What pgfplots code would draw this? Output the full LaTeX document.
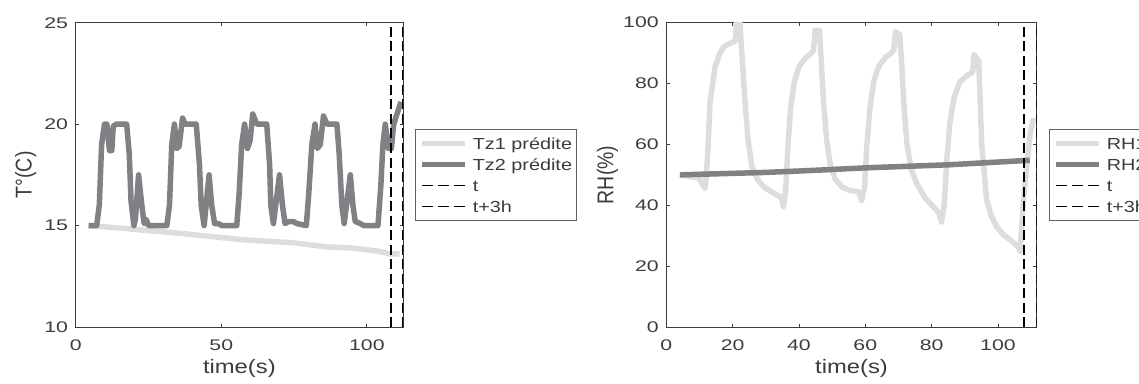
\documentclass[border=0pt]{standalone}
\usepackage{pgfplots}
\pgfplotsset{compat=1.18}
\usepackage{fontspec}
\setmainfont{Liberation Sans}
\definecolor{lightg}{RGB}{220,221,223}
\definecolor{darkg}{RGB}{128,128,133}
\definecolor{axc}{RGB}{60,60,60}
\pgfplotsset{
  common/.style={
    scale only axis, height=304.3pt,
    axis line style={axc, line width=0.8pt},
    every tick/.style={axc, line width=0.8pt},
    major tick length=3.5pt,
    tick align=inside, tick pos=both,
    /pgf/number format/assume math mode=true,
    tick label style={font=\fontsize{15.4}{18}\selectfont, text=axc, xscale=1.38},
    xticklabel style={anchor=north, yshift=-9.7pt},
    yticklabel style={anchor=east, xshift=-2pt},
    label style={font=\fontsize{19.5}{22}\selectfont, text=axc},
    xlabel style={at={(axis description cs:0.5,0)}, anchor=base, yshift=-46.3pt, xscale=1.22},
    legend cell align=left,
    legend style={anchor=north west, draw=axc!80, line width=0.6pt, fill=white,
      inner xsep=4pt, inner ysep=3pt, font=\fontsize{16}{19}\selectfont, text=axc,
      nodes={xscale=1.24, inner sep=0pt, text height=16.7pt, text depth=4.7pt},
      row sep=-0.3pt, column sep=5pt},
    legend image code/.code={\draw[#1] (0pt,0pt) -- (43pt,0pt);},
  },
  dashimg/.style={legend image code/.code={\draw[##1, line width=1.2pt, dash pattern=on 11pt off 5pt] (0pt,0pt) -- (43pt,0pt);}},
  lgt/.style={lightg, line width=5.5pt, line join=round, no markers},
  drk/.style={darkg, line width=5.5pt, line join=round, no markers},
  vdash/.style={black, line width=2pt, dash pattern=on 10pt off 4.5pt, no markers, dashimg},
}
\begin{document}
\begin{tikzpicture}
\useasboundingbox (0pt,0pt) rectangle (1139pt,383pt);
\clip (0pt,0pt) rectangle (1139pt,383pt);
\begin{axis}[common, at={(75.7pt,56pt)}, anchor=south west, width=327.3pt,
  xmin=0, xmax=112.4, ymin=10, ymax=25,
  xtick={0,50,100}, ytick={10,15,20,25},
  xlabel={time(s)}, ylabel={T°(C)},
  ylabel style={at={(axis description cs:-0.1344,0.5)}, anchor=base, yscale=1.17},
  legend style={at={(1.0367,0.6497)}}]
\addplot[lgt] coordinates {(4.4,15) (17.5,14.85) (37,14.6) (57.6,14.3) (74.8,14.15) (86.3,13.95) (94.3,13.9) (103.4,13.75) (108,13.6) (111.2,13.6)};
\addlegendentry{Tz1 prédite}
\addplot[drk] coordinates {
(4.4,15) (7.2,15) (8.1,16) (8.9,19) (9.9,20) (10.7,20) (11.6,18.7) (12.4,18.7) (12.9,19.9) (13.9,20) (17.5,20)
(18.4,18.5) (19.0,16.2) (20.0,15) (20.5,15.3) (21.6,17.5) (22.7,16) (23.5,15.1) (24.2,15.3) (25.0,15) (31.3,15)
(32.2,16) (33.0,19) (33.9,20) (34.7,18.8) (35.5,18.9) (36.7,20.3) (37.6,20) (41.4,20)
(42.5,18) (43.1,16) (44.1,15) (45.8,17.5) (46.7,16) (47.7,15.1) (49.0,15.1) (50.2,15) (55.3,15)
(56.1,16.5) (57.0,19) (58.0,20) (59.0,18.8) (59.9,19.2) (60.8,20.5) (62.2,20) (65.6,20)
(66.6,18) (67.0,16) (67.9,15.1) (70.0,17.5) (71.0,16) (71.9,15.1) (73.1,15.2) (74.8,15.2) (75.9,15.1) (79.2,15)
(80.0,16.5) (81.1,19) (82.2,20) (83.0,18.8) (84.0,19) (85.1,20.4) (86.3,20) (89.7,20)
(90.5,18.5) (91.4,16) (92.2,15.1) (94.3,17.5) (95.2,16) (96.0,15.2) (97.7,15.1) (98.9,15) (103.8,15)
(104.8,17) (105.5,19) (106.3,20) (107.4,18.8) (108.4,18.8) (109.2,20) (111.7,21.1)};
\addlegendentry{Tz2 prédite}
\addplot[vdash] coordinates {(108.2,10) (108.2,25)};
\addlegendentry{t}
\addplot[vdash] coordinates {(112.4,10) (112.4,25)};
\addlegendentry{t+3h}
\end{axis}
\begin{axis}[common, at={(666.3pt,56pt)}, anchor=south west, width=370.4pt,
  xmin=0, xmax=111.7, ymin=0, ymax=100,
  xtick={0,20,...,100}, ytick={0,20,...,100},
  xlabel={time(s)}, ylabel={RH(\%)},
  ylabel style={at={(axis description cs:-0.1431,0.5)}, anchor=base, yscale=1.17},
  legend style={at={(1.0332,0.6497)}}]
\addplot[lgt] coordinates {
(4.1,50) (9.8,49) (11.7,45.5) (12.4,55) (13.2,74) (14.7,85.5) (16.0,89.5) (17.2,92) (19.7,93.5) (20.8,94)
(21.2,100) (22.2,100) (22.9,88) (23.7,74.6) (24.6,62) (25.8,52.7) (27.5,48.5) (29.3,46.2) (31.5,44.5) (34.3,42.9)
(35.0,41.5) (35.3,39.5) (36.0,45) (36.7,60) (37.5,72) (38.6,80.5) (40.0,85.5) (42.0,88.5) (43.8,90) (44.4,91)
(44.9,97.5) (46.2,97.5) (46.7,88) (47.4,74) (48.4,61) (49.5,53) (51,48.5) (53,46) (55.5,44.8) (58,44.5)
(58.9,41.5) (59.8,46) (60.5,60) (61.4,72) (62.5,80.5) (64,85.5) (66,88.5) (67.8,90) (68.6,91)
(69.1,97) (70.4,96) (71.0,86) (71.7,72) (72.6,60) (73.8,52) (75.6,47) (78,42.5) (80.5,39.5) (82.2,37.5)
(83,34.5) (83.8,40) (84.6,55) (85.5,67) (86.8,75.5) (88.5,80.5) (90.5,82.5) (92,83.5) (92.4,84)
(92.8,89.5) (94.2,87.5) (95.1,60.4) (96.6,41.8) (98.0,36.5) (99.6,33) (101.5,30.5) (103.6,28.7) (106.0,26.5)
(106.7,24.9) (107.7,41.8) (109.7,63.4) (110.7,68.7)};
\addlegendentry{RH1 prédite}
\addplot[drk] coordinates {(4.1,50) (30,50.8) (45,51.5) (60,52.3) (85,53.3) (100,54.2) (109.6,54.8)};
\addlegendentry{RH2 prédite}
\addplot[vdash] coordinates {(107.8,0) (107.8,100)};
\addlegendentry{t}
\addplot[vdash] coordinates {(111.7,0) (111.7,100)};
\addlegendentry{t+3h}
\end{axis}
\end{tikzpicture}
\end{document}
